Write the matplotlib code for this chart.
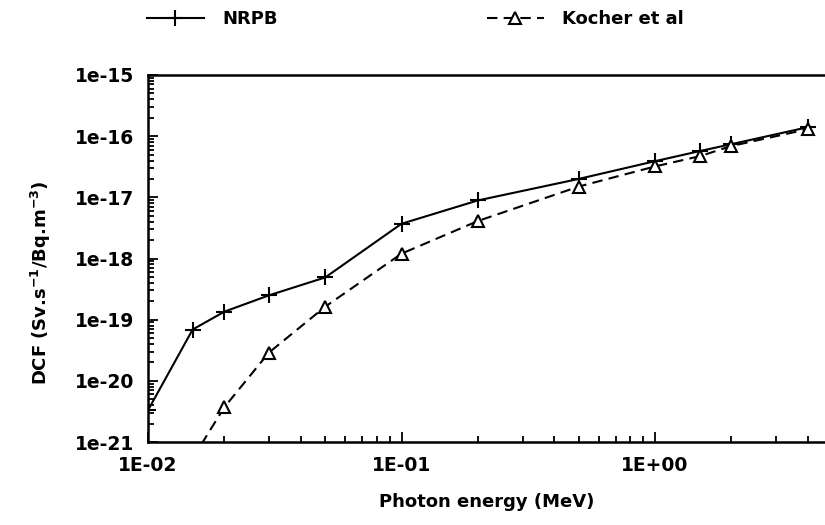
import numpy as np
import matplotlib.pyplot as plt
from matplotlib.ticker import FuncFormatter, NullFormatter

plt.rcParams['font.family'] = ['DejaVu Sans']
plt.rcParams['font.weight'] = 'bold'

# photon energy (MeV)
energy_nrpb = [0.01, 0.015, 0.02, 0.03, 0.05, 0.1, 0.2, 0.5, 1.0, 1.5, 2.0, 4.0]
dcf_nrpb = [3.3e-21, 6.9e-20, 1.35e-19, 2.5e-19, 4.9e-19, 3.7e-18, 8.9e-18,
            2.0e-17, 3.9e-17, 5.7e-17, 7.4e-17, 1.4e-16]

energy_kocher = [0.015, 0.02, 0.03, 0.05, 0.1, 0.2, 0.5, 1.0, 1.5, 2.0, 4.0]
dcf_kocher = [5.4e-22, 3.7e-21, 2.9e-20, 1.63e-19, 1.2e-18, 4.1e-18,
              1.5e-17, 3.2e-17, 4.7e-17, 6.9e-17, 1.3e-16]

xticks = [0.01, 0.1, 1.0]
yexp = np.arange(-21, -14)

fig = plt.figure(figsize=(8.25, 5.25), dpi=100)
ax = fig.add_axes([148/825, 1 - 442/525, 1 - 148/825, (442 - 75)/525])

l1, = ax.plot(energy_nrpb, dcf_nrpb, '-', color='black', lw=1.5,
              marker='+', ms=11, mew=1.5, label='NRPB')
l2, = ax.plot(energy_kocher, dcf_kocher, '--', color='black', lw=1.5,
              marker='^', ms=8, mfc='white', mec='black', mew=1.5,
              dashes=(5, 3), label='Kocher et al')

ax.set_xscale('log')
ax.set_yscale('log')
ax.set_xlim(0.01, 4.68)
ax.set_ylim(1e-21, 1e-15)

# only ticks inside the visible range
ax.set_xticks(xticks)
ax.set_xticks([m * d for d in [0.01, 0.1, 1.0] for m in range(2, 10) if m * d < 4.68],
              minor=True)
ax.set_yticks(10.0 ** yexp)
ax.set_yticks([m * 10.0 ** e for e in yexp[:-1] for m in range(2, 10)], minor=True)
ax.xaxis.set_major_formatter(FuncFormatter(lambda v, p: '%.0E' % v))
ax.yaxis.set_major_formatter(FuncFormatter(lambda v, p: '1e%d' % round(np.log10(v))))
ax.yaxis.set_minor_formatter(NullFormatter())
ax.xaxis.set_minor_formatter(NullFormatter())

ax.tick_params(which='both', direction='in', labelsize=13.5, width=1.3, pad=10)
ax.tick_params(which='major', length=7)
ax.tick_params(which='minor', length=4)
for lbl in ax.get_xticklabels() + ax.get_yticklabels():
    lbl.set_fontweight('bold')

for s in ['left', 'bottom', 'top']:
    ax.spines[s].set_linewidth(1.8)
ax.spines['right'].set_visible(False)

ax.set_xlabel('Photon energy (MeV)', fontsize=13, fontweight='bold')
ax.xaxis.set_label_coords(0.5, -0.139)
ax.set_ylabel(r'DCF (Sv.s$^{\mathbf{-1}}$/Bq.m$^{\mathbf{-3}}$)', fontsize=13,
              fontweight='bold')
ax.yaxis.set_label_coords(-0.140, 0.433)

leg_kw = dict(loc='center left', frameon=False, borderpad=0, borderaxespad=0,
              handlelength=3.15, handletextpad=1.0,
              prop={'weight': 'bold', 'size': 13})
fig.legend(handles=[l1], bbox_to_anchor=(147/825, 1 - 19/525), **leg_kw)
fig.legend(handles=[l2], bbox_to_anchor=(487/825, 1 - 19/525), **leg_kw)

fig.savefig('out.png', dpi=100)
